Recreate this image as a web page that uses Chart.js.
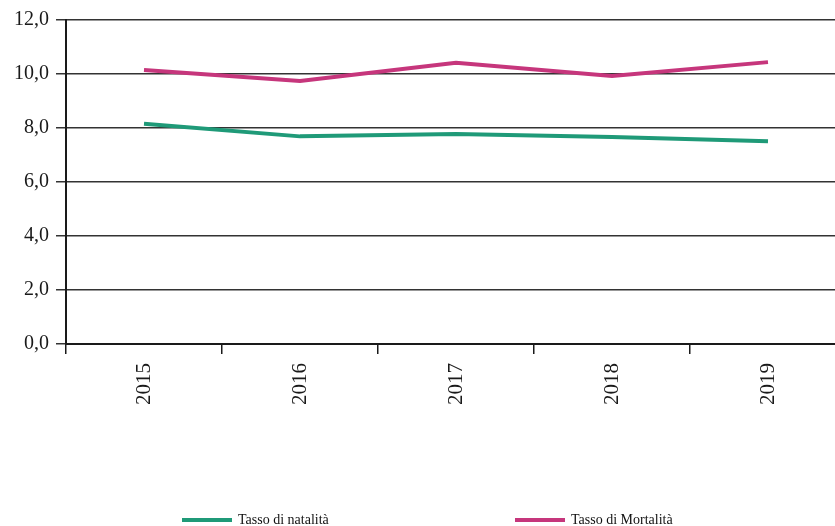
<!DOCTYPE html>
<html>
<head>
<meta charset="utf-8">
<script src="https://cdn.jsdelivr.net/npm/chart.js@4/dist/chart.umd.min.js"></script>
<style>
  html, body { margin: 0; padding: 0; background: #fff; overflow: hidden; }
  #wrap { position: relative; width: 846px; height: 526px; }
  #legend { position: absolute; left: 0; top: 512px; width: 846px; height: 18px;
            font-family: "Liberation Serif", serif; font-size: 14px; color: #111; }
  .item { position: absolute; top: 0; display: flex; align-items: center; }
  .swatch { width: 50px; height: 4px; margin-right: 6px; }
</style>
</head>
<body>
<div id="wrap">
  <canvas id="chart" width="846" height="526"></canvas>
  <div id="legend"></div>
</div>
<script>
// Data
const years = ['2015', '2016', '2017', '2018', '2019'];
const natalita = [8.16, 7.69, 7.78, 7.67, 7.51];
const mortalita = [10.15, 9.74, 10.42, 9.93, 10.44];
const seriesNames = ['Tasso di natalità', 'Tasso di Mortalità'];
const seriesColors = ['#1f9a78', '#c6367c'];

const font = "'Liberation Serif', 'Times New Roman', serif";
const ink = '#1a1a1a';

const ctx = document.getElementById('chart').getContext('2d');
const chart = new Chart(ctx, {
  type: 'line',
  data: {
    labels: years,
    datasets: [
      {
        label: seriesNames[0],
        data: natalita,
        borderColor: seriesColors[0],
        borderWidth: 4,
        pointRadius: 0,
        tension: 0,
        fill: false
      },
      {
        label: seriesNames[1],
        data: mortalita,
        borderColor: seriesColors[1],
        borderWidth: 4,
        pointRadius: 0,
        tension: 0,
        fill: false
      }
    ]
  },
  options: {
    responsive: false,
    animation: false,
    layout: { padding: { top: 20, left: 7, right: 0, bottom: 112 } },
    plugins: {
      legend: { display: false },
      tooltip: { enabled: false }
    },
    scales: {
      x: {
        offset: true,
        grid: {
          offset: true,
          drawOnChartArea: false,
          drawTicks: true,
          tickLength: 10,
          color: ink,
          lineWidth: 1.5
        },
        border: { display: true, color: ink, width: 2 },
        ticks: {
          minRotation: 90,
          maxRotation: 90,
          padding: 9,
          color: ink,
          font: { family: font, size: 21 }
        }
      },
      y: {
        min: 0,
        max: 12,
        grid: {
          color: '#333',
          lineWidth: 1.5,
          tickLength: 10
        },
        border: { display: true, color: ink, width: 2 },
        ticks: {
          stepSize: 2,
          padding: 7,
          color: ink,
          font: { family: font, size: 20 },
          callback: v => v.toFixed(1).replace('.', ',')
        }
      }
    }
  }
});

// Legend below the chart
const legend = document.getElementById('legend');
const legendX = [182, 515];
chart.data.datasets.forEach((ds, i) => {
  const item = document.createElement('div');
  item.className = 'item';
  item.style.left = legendX[i] + 'px';
  item.innerHTML = '<span class="swatch" style="background:' + ds.borderColor + '"></span>' + ds.label;
  legend.appendChild(item);
});
</script>
</body>
</html>
